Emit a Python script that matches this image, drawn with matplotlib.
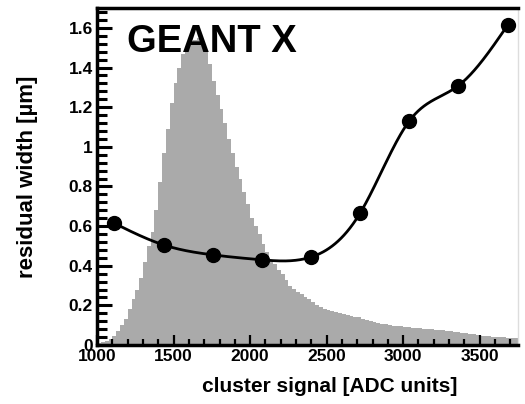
import numpy as np
import matplotlib
matplotlib.use('Agg')
import matplotlib.pyplot as plt
from matplotlib.ticker import MultipleLocator

plt.rcParams['font.family'] = ['Liberation Sans', 'DejaVu Sans']

# measured residual width vs cluster signal
signal = [1110, 1435, 1755, 2075, 2395, 2720, 3040, 3360, 3685]
width = [0.615, 0.505, 0.455, 0.43, 0.443, 0.667, 1.13, 1.308, 1.616]

# cluster signal spectrum (arbitrary scale), 25 ADC bins from 1000
hist_start = 1000
hist_bin = 25
hist_counts = [
    0.01, 0.015, 0.02, 0.03, 0.045, 0.07, 0.10, 0.13, 0.18, 0.23,
    0.28, 0.34, 0.42, 0.50, 0.57, 0.68, 0.82, 0.97, 1.09, 1.22,
    1.32, 1.40, 1.47, 1.50, 1.52, 1.54, 1.55, 1.53, 1.49, 1.42,
    1.33, 1.26, 1.19, 1.12, 1.04, 0.97, 0.90, 0.84, 0.77, 0.71,
    0.64, 0.60, 0.56, 0.51, 0.47, 0.43, 0.41, 0.38, 0.36, 0.33,
    0.30, 0.285, 0.27, 0.255, 0.24, 0.23, 0.215, 0.20, 0.19, 0.18,
    0.175, 0.17, 0.165, 0.16, 0.158, 0.153, 0.148, 0.143, 0.14, 0.133,
    0.127, 0.12, 0.115, 0.11, 0.107, 0.104, 0.101, 0.098, 0.096, 0.094,
    0.092, 0.09, 0.088, 0.086, 0.084, 0.083, 0.081, 0.08, 0.078, 0.076,
    0.074, 0.072, 0.07, 0.068, 0.065, 0.062, 0.06, 0.057, 0.054, 0.051,
    0.048, 0.045, 0.043, 0.041, 0.04, 0.039, 0.038, 0.037, 0.036, 0.035,
    0.035,
]


def natural_spline(x, y, n=400):
    x = np.asarray(x, float)
    y = np.asarray(y, float)
    k = len(x)
    h = np.diff(x)
    A = np.zeros((k, k))
    b = np.zeros(k)
    A[0, 0] = A[-1, -1] = 1
    for i in range(1, k - 1):
        A[i, i - 1] = h[i - 1]
        A[i, i] = 2 * (h[i - 1] + h[i])
        A[i, i + 1] = h[i]
        b[i] = 3 * ((y[i + 1] - y[i]) / h[i] - (y[i] - y[i - 1]) / h[i - 1])
    c = np.linalg.solve(A, b)
    xs = np.linspace(x[0], x[-1], n)
    idx = np.clip(np.searchsorted(x, xs) - 1, 0, k - 2)
    dx = xs - x[idx]
    bb = (y[idx + 1] - y[idx]) / h[idx] - h[idx] * (2 * c[idx] + c[idx + 1]) / 3
    d = (c[idx + 1] - c[idx]) / (3 * h[idx])
    ys = y[idx] + bb * dx + c[idx] * dx ** 2 + d * dx ** 3
    return xs, ys


fig = plt.figure(figsize=(5.25, 4.04), dpi=100)
ax = fig.add_axes([0.185, 0.146, 0.802, 0.834])

# histogram outline as one closed step polygon
edges = hist_start + hist_bin * np.arange(len(hist_counts) + 1)
step_x = np.repeat(edges, 2)[1:-1]
step_y = np.repeat(hist_counts, 2)
poly_x = np.r_[edges[0], step_x, edges[-1]]
poly_y = np.r_[0, step_y, 0]
ax.fill(poly_x, poly_y, facecolor='#aaaaaa', edgecolor='none',
        antialiased=False, zorder=1)

xs, ys = natural_spline(signal, width)
ax.plot(xs, ys, color='black', lw=2, zorder=3)
ax.plot(signal, width, 'o', color='black', ms=10, zorder=4)

ax.set_xlim(1000, 3752)
ax.set_ylim(0, 1.70)

ax.xaxis.set_major_locator(MultipleLocator(500))
ax.xaxis.set_minor_locator(MultipleLocator(100))
ax.yaxis.set_minor_locator(MultipleLocator(0.04))
ax.set_yticks([0, 0.2, 0.4, 0.6, 0.8, 1.0, 1.2, 1.4, 1.6])
ax.set_yticklabels(['0', '0.2', '0.4', '0.6', '0.8', '1', '1.2', '1.4', '1.6'])

ax.tick_params(axis='y', which='major', direction='in', length=11, width=2.2,
               labelsize=12.5, pad=3)
ax.tick_params(axis='y', which='minor', direction='in', length=7, width=2.2)
ax.tick_params(axis='x', which='major', direction='in', length=7, width=1.6,
               labelsize=12.5, pad=3)
ax.tick_params(axis='x', which='minor', direction='in', length=4, width=1.6)
for lab in ax.get_xticklabels() + ax.get_yticklabels():
    lab.set_fontweight('bold')

for side in ['left', 'bottom', 'top']:
    ax.spines[side].set_linewidth(2.5)
    ax.spines[side].set_color('black')
ax.spines['right'].set_color('#dddddd')
ax.spines['right'].set_linewidth(1)

ax.set_xlabel('cluster signal [ADC units]', fontsize=15, fontweight='bold',
              labelpad=9)
ax.xaxis.label.set_x(0.553)
ax.set_ylabel('residual width [\u00b5m]', fontsize=16, fontweight='bold',
              labelpad=22)

ax.text(0.071, 0.952, 'GEANT X', transform=ax.transAxes, fontsize=27.5,
        fontweight='bold', va='top', ha='left', zorder=5)

fig.savefig('out.png', dpi=100)
